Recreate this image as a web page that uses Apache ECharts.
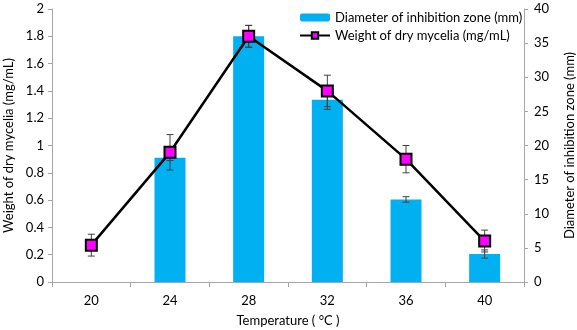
<!DOCTYPE html>
<html>
<head>
<meta charset="utf-8">
<script src="https://cdn.jsdelivr.net/npm/echarts@6/dist/echarts.min.js"></script>
<style>
	html, body { margin: 0; padding: 0; background: #fff; }
	#chart { width: 577px; height: 330px; }
</style>
</head>
<body>
<div id="chart"></div>
<script>
// temperature (°C)
var categories = ['20', '24', '28', '32', '36', '40'];
// diameter of inhibition zone (mm), right axis
var zoneValues = [0, 18.2, 36, 26.7, 12.1, 4.1];
var zoneErr = [0, 0.4, 1.6, 1.4, 0.4, 0.6];
// weight of dry mycelia (mg/mL), left axis
var weightValues = [0.27, 0.95, 1.80, 1.40, 0.90, 0.30];
var weightErr = [0.08, 0.13, 0.08, 0.115, 0.10, 0.08];

var font = 'Lato';
var axisGrey = '#a6a6a6';

function errData(vals, errs) {
	var out = [];
	for (var i = 0; i < vals.length; i++) {
		if (errs[i] > 0) out.push([i, vals[i] - errs[i], vals[i] + errs[i]]);
	}
	return out;
}

function errRender(params, api) {
	var x = api.value(0);
	var lo = api.coord([x, api.value(1)]);
	var hi = api.coord([x, api.value(2)]);
	var w = 3.5;
	var st = { stroke: '#404040', lineWidth: 1 };
	return {
		type: 'group',
		children: [
			{ type: 'line', shape: { x1: lo[0], y1: lo[1], x2: hi[0], y2: hi[1] }, style: st },
			{ type: 'line', shape: { x1: lo[0] - w, y1: lo[1], x2: lo[0] + w, y2: lo[1] }, style: st },
			{ type: 'line', shape: { x1: hi[0] - w, y1: hi[1], x2: hi[0] + w, y2: hi[1] }, style: st }
		]
	};
}

var chart = echarts.init(document.getElementById('chart'));
var option = {
	animation: false,
	textStyle: { fontFamily: font },
	grid: { left: 52, right: 53, top: 9, bottom: 48, outerBoundsMode: 'none' },
	legend: {
		orient: 'vertical',
		left: 294,
		top: 6,
		itemWidth: 30,
		itemHeight: 8,
		itemGap: 5,
		textStyle: { fontFamily: font, fontSize: 13, color: '#000' },
		data: ['Diameter of inhibition zone (mm)', 'Weight of dry mycelia (mg/mL)']
	},
	xAxis: {
		type: 'category',
		data: categories,
		name: 'Temperature ( °C )',
		nameLocation: 'middle',
		nameGap: 32,
		nameTextStyle: { fontSize: 13, color: '#000' },
		axisLine: { lineStyle: { color: axisGrey } },
		axisTick: { show: true, length: 5, lineStyle: { color: axisGrey } },
		axisLabel: { fontSize: 13, color: '#000', margin: 12 }
	},
	yAxis: [
		{
			type: 'value',
			min: 0, max: 2, interval: 0.2,
			name: 'Weight of dry mycelia (mg/mL)',
			nameLocation: 'middle',
			nameGap: 35,
			nameTextStyle: { fontSize: 13, color: '#000' },
			axisLine: { show: true, lineStyle: { color: axisGrey } },
			axisTick: { show: true, length: 4, lineStyle: { color: axisGrey } },
			axisLabel: { fontSize: 13, color: '#000', margin: 8 },
			splitLine: { show: false }
		},
		{
			type: 'value',
			min: 0, max: 40, interval: 5,
			name: 'Diameter of inhibition zone (mm)',
			nameLocation: 'middle',
			nameGap: 39,
			nameTextStyle: { fontSize: 13, color: '#000' },
			axisLine: { show: true, lineStyle: { color: axisGrey } },
			axisTick: { show: true, length: 4, lineStyle: { color: axisGrey } },
			axisLabel: { fontSize: 13, color: '#000', margin: 10 },
			splitLine: { show: false }
		}
	],
	series: [
		{
			name: 'Diameter of inhibition zone (mm)',
			type: 'bar',
			yAxisIndex: 1,
			data: zoneValues,
			barWidth: 31,
			itemStyle: { color: '#00b0f0' },
			z: 1
		},
		{
			type: 'custom',
			yAxisIndex: 1,
			data: errData(zoneValues, zoneErr),
			renderItem: errRender,
			z: 2,
			silent: true
		},
		{
			type: 'custom',
			yAxisIndex: 0,
			data: errData(weightValues, weightErr),
			renderItem: errRender,
			z: 3,
			silent: true
		},
		{
			name: 'Weight of dry mycelia (mg/mL)',
			type: 'line',
			yAxisIndex: 0,
			data: weightValues,
			symbol: 'rect',
			symbolSize: 11,
			lineStyle: { color: '#000', width: 2.5 },
			itemStyle: { color: '#ff00ff', borderColor: '#000', borderWidth: 2 },
			z: 4
		}
	]
};
chart.setOption(option);
</script>
</body>
</html>
